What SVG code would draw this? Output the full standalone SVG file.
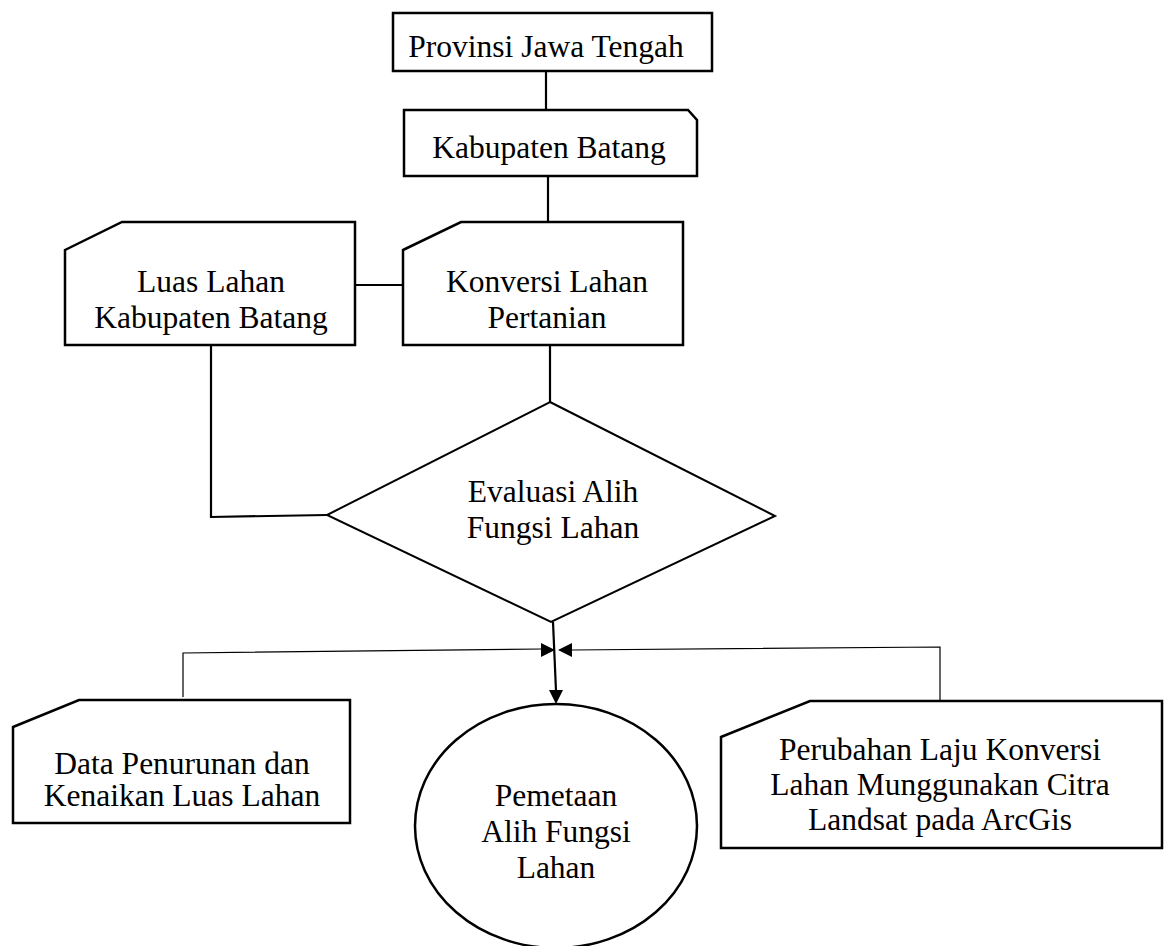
<svg xmlns="http://www.w3.org/2000/svg" width="1165" height="946" viewBox="0 0 1165 946">
<style>
.s{fill:#fff;stroke:#000;stroke-width:2.5}
.t{font-family:"Liberation Serif","Times New Roman",serif;font-size:31.5px;fill:#000;text-anchor:middle}
.c{fill:none;stroke:#000;stroke-width:2.2}
.thin{fill:none;stroke:#000;stroke-width:1.2}
</style>
<rect width="1165" height="946" fill="#fff"/>
<g id="connectors">
<line class="c" x1="546" y1="71" x2="546" y2="110"/>
<line class="c" x1="548" y1="176" x2="548" y2="222"/>
<line class="c" x1="355" y1="285" x2="403" y2="285"/>
<polyline class="c" points="211,345 211,517 327,515"/>
<line class="c" x1="550" y1="345" x2="550" y2="402"/>
<line class="c" x1="553" y1="622" x2="556" y2="691"/>
<polygon points="549,690 563,690 556,704" fill="#000"/>
<polyline class="thin" points="183,697 183,653 542,649"/>
<polygon points="541,643 541,657 555,650" fill="#000"/>
<polyline class="thin" points="940,700 940,647 571,650"/>
<polygon points="572,643 572,657 558,650" fill="#000"/>
</g>
<g id="provinsi">
<rect class="s" x="393" y="13" width="319" height="58"/>
<text class="t" x="546" y="57">Provinsi Jawa Tengah</text>
</g>
<g id="kabupaten">
<path class="s" d="M404,110 L688,110 L697,120 L697,176 L404,176 Z"/>
<text class="t" x="549" y="158">Kabupaten Batang</text>
</g>
<g id="luas">
<path class="s" d="M65,250 L122,222 L355,222 L355,345 L65,345 Z"/>
<text class="t" x="211" y="292">Luas Lahan</text>
<text class="t" x="211" y="328">Kabupaten Batang</text>
</g>
<g id="konversi">
<path class="s" d="M403,250 L461,222 L683,222 L683,345 L403,345 Z"/>
<text class="t" x="547" y="292">Konversi Lahan</text>
<text class="t" x="547" y="328">Pertanian</text>
</g>
<g id="evaluasi">
<polygon class="s" points="550,402 775,516 551,622 327,515" style="stroke-width:2"/>
<text class="t" x="553" y="502">Evaluasi Alih</text>
<text class="t" x="553" y="538">Fungsi Lahan</text>
</g>
<g id="data">
<path class="s" d="M13,727 L79,700 L350,700 L350,823 L13,823 Z"/>
<text class="t" x="182" y="774">Data Penurunan dan</text>
<text class="t" x="182" y="806">Kenaikan Luas Lahan</text>
</g>
<g id="pemetaan">
<ellipse class="s" cx="556" cy="826" rx="141" ry="122"/>
<text class="t" x="556" y="806">Pemetaan</text>
<text class="t" x="556" y="842">Alih Fungsi</text>
<text class="t" x="556" y="878">Lahan</text>
</g>
<g id="perubahan">
<path class="s" d="M721,737 L810,701 L1162,701 L1162,848 L721,848 Z"/>
<text class="t" x="940" y="760">Perubahan Laju Konversi</text>
<text class="t" x="940" y="795">Lahan Munggunakan Citra</text>
<text class="t" x="940" y="830">Landsat pada ArcGis</text>
</g>
</svg>
